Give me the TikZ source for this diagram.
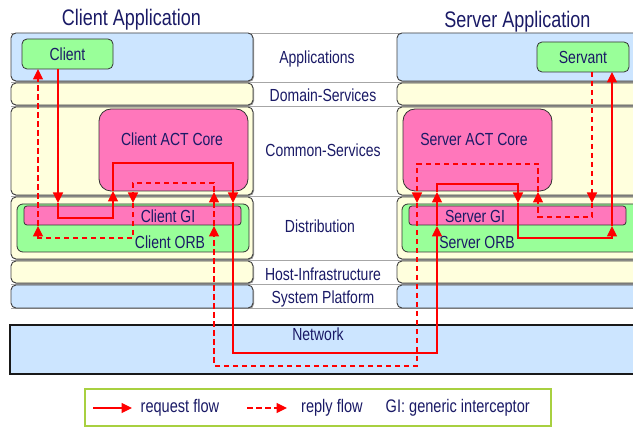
\documentclass[tikz,border=0pt]{standalone}
\usepackage{fontspec}
\setmainfont{Liberation Sans}[FakeStretch=0.8]
\usetikzlibrary{arrows.meta}
\definecolor{lblue}{HTML}{CCE5FF}
\definecolor{lyel}{HTML}{FFFFDD}
\definecolor{lgreen}{HTML}{99FF99}
\definecolor{lpink}{HTML}{FF77BB}
\definecolor{navy}{HTML}{1A1A66}
\definecolor{legendgreen}{HTML}{A8D040}
\tikzset{
  layerbox/.style={draw=black!75, line width=0.9pt, rounded corners=5pt},
  shadowbox/.style={fill=black!40, rounded corners=5pt},
  compbox/.style={draw=black!80, line width=0.8pt, rounded corners=5pt, inner sep=0pt},
  txt/.style={anchor=base, inner sep=0pt, text=navy},
  bigtxt/.style={txt, font=\fontsize{22.5}{26}\selectfont},
  req/.style={red, line width=1.2pt, -{Triangle[length=10.5pt,width=10pt]}},
  rep/.style={req, dash pattern=on 5.5pt off 3.5pt},
  sepline/.style={draw=black!35, line width=0.8pt}
}
\newcommand{\layerpair}[3]{%
  \fill[shadowbox] (12,#1+1) rectangle (254,#2+1);
  \fill[shadowbox] (398,#1+1) rectangle (645,#2+1);
  \draw[layerbox, fill=#3] (11,#1) rectangle (253,#2);
  \draw[layerbox, fill=#3] (397,#1) rectangle (644,#2);
}
\begin{document}
\begin{tikzpicture}[x=1pt, y=-1pt, font=\fontsize{17.5}{20}\selectfont]
\clip (0,0) rectangle (633,427);
\fill[white] (0,0) rectangle (633,427);

% separator lines
\foreach \yy in {33,82,106,196,260,284,308}
  \draw[sepline] (11,\yy) -- (633,\yy);

% layers
\layerpair{33}{81}{lblue}
\layerpair{83}{105}{lyel}
\layerpair{107}{195}{lyel}
\layerpair{197}{259}{lyel}
\layerpair{261}{283}{lyel}
\layerpair{285}{308}{lblue}

% layer labels
\node[txt] (lapp) at (317,64) {Applications};
\node[txt] (ldom) at (323,102) {Domain-Services};
\node[txt] (lcom) at (323,157) {Common-Services};
\node[txt] (ldis) at (320,233) {Distribution};
\node[txt] (lhost) at (323,281) {Host-Infrastructure};
\node[txt] (lsys) at (323,304) {System Platform};

% titles
\node[bigtxt] (tclient) at (131.5,26) {Client Application};
\node[bigtxt] (tserver) at (517.5,28) {Server Application};

% components
\node[compbox, fill=lgreen, minimum width=91pt, minimum height=30pt] (client) at (67.5,54) {};
\node[txt] at (67.5,61) {Client};
\node[compbox, fill=lgreen, minimum width=92pt, minimum height=30pt] (servant) at (583,57) {};
\node[txt] at (583,64) {Servant};

\node[compbox, fill=lpink, rounded corners=12pt, minimum width=149pt, minimum height=82pt] (cact) at (173.5,150) {};
\node[txt] at (172,146) {Client ACT Core};
\node[compbox, fill=lpink, rounded corners=12pt, minimum width=149pt, minimum height=82pt] (sact) at (477.5,150) {};
\node[txt] at (474,146) {Server ACT Core};

\node[compbox, fill=lgreen, rounded corners=6pt, minimum width=232pt, minimum height=48pt] (corb) at (133,228) {};
\node[compbox, fill=lpink, rounded corners=3pt, minimum width=217pt, minimum height=19pt] (cgi) at (132.5,215.5) {};
\node[txt] at (168,223) {Client GI};
\node[txt] at (170,249) {Client ORB};

\node[compbox, fill=lgreen, rounded corners=6pt, minimum width=240pt, minimum height=48pt] (sorb) at (522,228) {};
\node[compbox, fill=lpink, rounded corners=3pt, minimum width=217pt, minimum height=19pt] (sgi) at (517.5,215.5) {};
\node[txt] at (475,223) {Server GI};
\node[txt] at (477,249) {Server ORB};

% network
\node[draw=black!90, line width=1.5pt, fill=lblue, minimum width=640pt, minimum height=49pt, inner sep=0pt] (net) at (330,349.5) {};
\node[txt] at (318,341) {Network};

% request flow coordinates
\coordinate (rq0) at (58,69);
\coordinate (rq1) at (58,203);
\coordinate (rq1b) at (58,218);
\coordinate (rq1c) at (113,218);
\coordinate (rq2) at (113,191);
\coordinate (rq2b) at (113,163);
\coordinate (rq2c) at (233,163);
\coordinate (rq3) at (233,203);
\coordinate (rq3b) at (233,353);
\coordinate (rq3c) at (437,353);
\coordinate (rq4) at (437,226);
\coordinate (rq5) at (437,192);
\coordinate (rq5b) at (437,184);
\coordinate (rq5c) at (518,184);
\coordinate (rq6) at (518,203);
\coordinate (rq6b) at (518,238);
\coordinate (rq6c) at (612,238);
\coordinate (rq7) at (612,226);
\coordinate (rq8) at (612,72);

\draw[req] (rq0) -- (rq1);
\draw[req] (rq1) -- (rq1b) -- (rq1c) -- (rq2);
\draw[req] (rq2) -- (rq2b) -- (rq2c) -- (rq3);
\draw[req] (rq3) -- (rq3b) -- (rq3c) -- (rq4);
\draw[req] (rq4) -- (rq5);
\draw[req] (rq5) -- (rq5b) -- (rq5c) -- (rq6);
\draw[req] (rq6) -- (rq6b) -- (rq6c) -- (rq7);
\draw[req] (rq7) -- (rq8);

% reply flow coordinates
\coordinate (rp0) at (592,72);
\coordinate (rp1) at (592,203);
\coordinate (rp1b) at (592,217);
\coordinate (rp1c) at (538,217);
\coordinate (rp2) at (538,192);
\coordinate (rp2b) at (538,164);
\coordinate (rp2c) at (417,164);
\coordinate (rp3) at (417,203);
\coordinate (rp3b) at (417,366);
\coordinate (rp3c) at (214,366);
\coordinate (rp4) at (214,226);
\coordinate (rp5) at (214,192);
\coordinate (rp5b) at (214,183);
\coordinate (rp5c) at (133,183);
\coordinate (rp6) at (133,203);
\coordinate (rp6b) at (133,238);
\coordinate (rp6c) at (38,238);
\coordinate (rp7) at (38,226);
\coordinate (rp8) at (38,69);

\draw[rep] (rp0) -- (rp1);
\draw[rep] (rp1) -- (rp1b) -- (rp1c) -- (rp2);
\draw[rep] (rp2) -- (rp2b) -- (rp2c) -- (rp3);
\draw[rep] (rp3) -- (rp3b) -- (rp3c) -- (rp4);
\draw[rep] (rp4) -- (rp5);
\draw[rep] (rp5) -- (rp5b) -- (rp5c) -- (rp6);
\draw[rep] (rp6) -- (rp6b) -- (rp6c) -- (rp7);
\draw[rep] (rp7) -- (rp8);

% legend
\node[draw=legendgreen, line width=1.2pt, fill=white, minimum width=466pt, minimum height=37pt, inner sep=0pt] (legend) at (318,407.5) {};
\coordinate (la0) at (93,408);
\coordinate (la1) at (132,408);
\coordinate (lb0) at (247,408);
\coordinate (lb1) at (287,408);
\draw[req] (la0) -- (la1);
\draw[rep] (lb0) -- (lb1);
\begin{scope}[font=\fontsize{18.2}{20}\selectfont]
\node[txt, anchor=base west] at (140.5,413) {request flow};
\node[txt, anchor=base west] at (301,413) {reply flow};
\node[txt, anchor=base west] at (385.5,413) {GI: generic interceptor};
\end{scope}
\end{tikzpicture}
\end{document}
